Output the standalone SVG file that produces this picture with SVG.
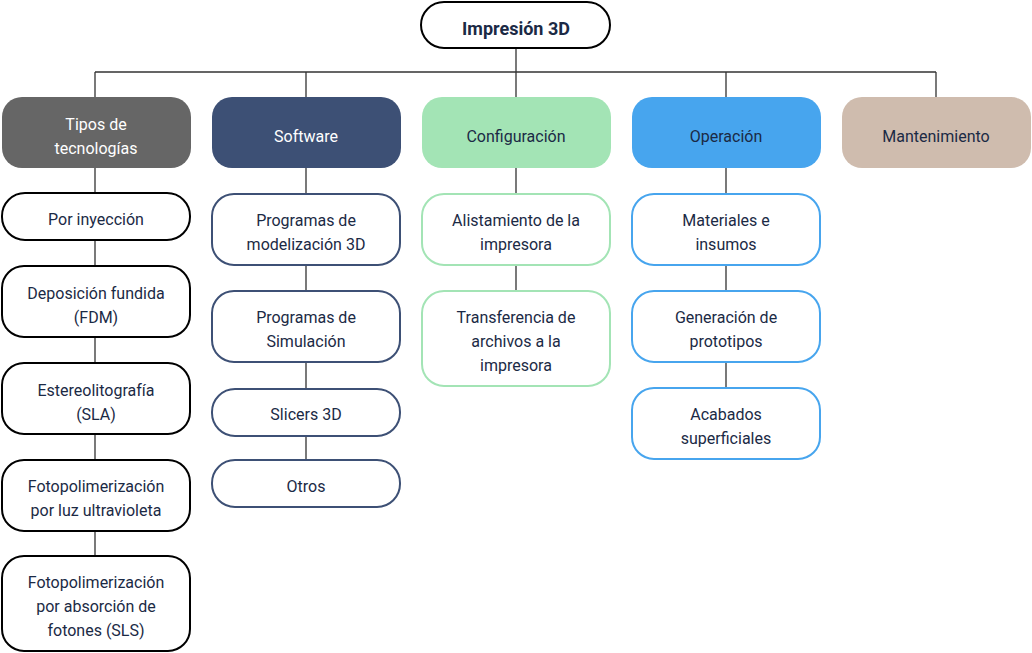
<svg xmlns="http://www.w3.org/2000/svg" width="1032" height="653" viewBox="0 0 1032 653">
<style>
text{font-family:Roboto,"Noto Sans","Liberation Sans",sans-serif;font-size:16px;fill:#1b2a45;text-anchor:middle}
.w{fill:#ffffff}
.b{font-weight:bold;font-size:18px}
.c{stroke:#333333;stroke-width:1.3;fill:none}
.k{fill:#ffffff;stroke:#000000;stroke-width:2}
.s{fill:#ffffff;stroke:#3d5075;stroke-width:2}
.g{fill:#ffffff;stroke:#a3e4b5;stroke-width:2}
.o{fill:#ffffff;stroke:#47a5ee;stroke-width:2}
</style>
<g id="connectors">
<path class="c" d="M516 48V97M95 72H936M95 72V97M306 72V97M726 72V97M936 72V97"/>
<path class="c" d="M95 168V556M306 168V460M516 168V291M726 168V388"/>
</g>
<g id="root"><rect class="k" x="421" y="2" width="189" height="46" rx="23"/><text class="b" x="516" y="35">Impresión 3D</text></g>
<g id="tipos"><rect x="2" y="97" width="189" height="71" rx="20" fill="#666666"/><text class="w" x="96" y="130">Tipos de</text><text class="w" x="96" y="154">tecnologías</text></g>
<g id="software"><rect x="212" y="97" width="189" height="71" rx="20" fill="#3d5075"/><text class="w" x="306" y="142">Software</text></g>
<g id="configuracion"><rect x="422" y="97" width="189" height="71" rx="20" fill="#a3e4b5"/><text x="516" y="142">Configuración</text></g>
<g id="operacion"><rect x="632" y="97" width="189" height="71" rx="20" fill="#47a5ee"/><text x="726" y="142">Operación</text></g>
<g id="mantenimiento"><rect x="842" y="97" width="189" height="71" rx="20" fill="#cfbcae"/><text x="936" y="142">Mantenimiento</text></g>

<g id="inyeccion"><rect class="k" x="2" y="193" width="188" height="47" rx="23"/><text x="96" y="225">Por inyección</text></g>
<g id="fdm"><rect class="k" x="2" y="266" width="188" height="71" rx="22"/><text x="96" y="299">Deposición fundida</text><text x="96" y="323">(FDM)</text></g>
<g id="sla"><rect class="k" x="2" y="363" width="188" height="71" rx="22"/><text x="96" y="396">Estereolitografía</text><text x="96" y="420">(SLA)</text></g>
<g id="uv"><rect class="k" x="2" y="460" width="188" height="71" rx="22"/><text x="96" y="492">Fotopolimerización</text><text x="96" y="516">por luz ultravioleta</text></g>
<g id="sls"><rect class="k" x="2" y="556" width="188" height="95" rx="22"/><text x="96" y="588">Fotopolimerización</text><text x="96" y="612">por absorción de</text><text x="96" y="636">fotones (SLS)</text></g>

<g id="modelizacion"><rect class="s" x="212" y="194" width="188" height="71" rx="22"/><text x="306" y="226">Programas de</text><text x="306" y="250">modelización 3D</text></g>
<g id="simulacion"><rect class="s" x="212" y="291" width="188" height="71" rx="22"/><text x="306" y="323">Programas de</text><text x="306" y="347">Simulación</text></g>
<g id="slicers"><rect class="s" x="212" y="389" width="188" height="47" rx="23"/><text x="306" y="420">Slicers 3D</text></g>
<g id="otros"><rect class="s" x="212" y="460" width="188" height="47" rx="23"/><text x="306" y="492">Otros</text></g>

<g id="alistamiento"><rect class="g" x="422" y="194" width="188" height="71" rx="22"/><text x="516" y="226">Alistamiento de la</text><text x="516" y="250">impresora</text></g>
<g id="transferencia"><rect class="g" x="422" y="291" width="188" height="95" rx="22"/><text x="516" y="323">Transferencia de</text><text x="516" y="347">archivos a la</text><text x="516" y="371">impresora</text></g>

<g id="materiales"><rect class="o" x="632" y="194" width="188" height="71" rx="22"/><text x="726" y="226">Materiales e</text><text x="726" y="250">insumos</text></g>
<g id="prototipos"><rect class="o" x="632" y="291" width="188" height="71" rx="22"/><text x="726" y="323">Generación de</text><text x="726" y="347">prototipos</text></g>
<g id="acabados"><rect class="o" x="632" y="388" width="188" height="71" rx="22"/><text x="726" y="420">Acabados</text><text x="726" y="444">superficiales</text></g>
</svg>
